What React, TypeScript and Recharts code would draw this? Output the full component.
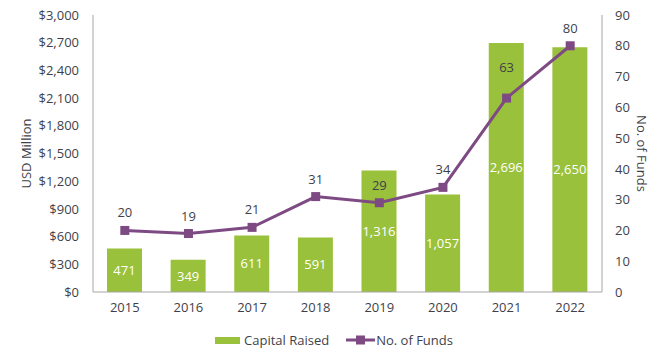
import React from "react";
import {
  ComposedChart,
  Bar,
  Line,
  XAxis,
  YAxis,
  Legend,
  LabelList,
} from "recharts";

const years = ["2015", "2016", "2017", "2018", "2019", "2020", "2021", "2022"];
const capitalRaised = [471, 349, 611, 591, 1316, 1057, 2696, 2650];
const fundCounts = [20, 19, 21, 31, 29, 34, 63, 80];
const usdTicks = [0, 300, 600, 900, 1200, 1500, 1800, 2100, 2400, 2700, 3000];
const fundTicks = [0, 10, 20, 30, 40, 50, 60, 70, 80, 90];

const GREEN = "#9AC13B";
const PURPLE = "#7E4A83";
const TEXT = "#3F3F4A";
const AXIS = "#A6A6A6";
const FONT = "'Open Sans', sans-serif";

const data = years.map((year, i) => ({
  year,
  capital: capitalRaised[i],
  funds: fundCounts[i],
}));

const SquareDot = (props: any) => {
  const { cx, cy } = props;
  if (cx == null || cy == null) return null;
  return <rect x={cx - 4.5} y={cy - 4.5} width={9} height={9} fill={PURPLE} />;
};

// line labels sit above the markers; the 2021 one was nudged higher in the original
const FundLabel = (props: any) => {
  const { x, y, value, index } = props;
  const lift = index === 6 ? 31 : 18;
  return (
    <text
      x={x}
      y={y - lift}
      textAnchor="middle"
      dominantBaseline="central"
      fill={TEXT}
      fontSize={13}
      fontFamily={FONT}
    >
      {value}
    </text>
  );
};

const LegendBox = () => (
  <div
    style={{
      height: 30,
      display: "flex",
      alignItems: "center",
      justifyContent: "center",
      fontFamily: FONT,
      fontSize: 13,
      color: TEXT,
    }}
  >
    <span style={{ display: "inline-block", width: 25, height: 7, background: GREEN, marginRight: 4 }} />
    <span style={{ marginRight: 17 }}>Capital Raised</span>
    <svg width={29} height={10} style={{ marginRight: 1 }}>
      <line x1={0} y1={5} x2={29} y2={5} stroke={PURPLE} strokeWidth={3} />
      <rect x={10} y={0.5} width={9} height={9} fill={PURPLE} />
    </svg>
    <span>No. of Funds</span>
  </div>
);

export default function App() {
  return (
    <div style={{ position: "absolute", left: 0, top: 0, background: "#fff" }}>
      <ComposedChart
        width={668}
        height={361}
        data={data}
        margin={{ top: 15, right: 0, bottom: 6, left: 0 }}
      >
        <XAxis
          dataKey="year"
          height={33}
          tickLine={false}
          tickSize={0}
          tickMargin={11}
          axisLine={{ stroke: AXIS }}
          tick={{ fill: TEXT, fontSize: 13, fontFamily: FONT }}
          interval={0}
        />
        <YAxis
          yAxisId="usd"
          width={93}
          domain={[0, 3000]}
          ticks={usdTicks}
          tickFormatter={(v: number) => `$${v.toLocaleString("en-US")}`}
          tickLine={false}
          tickSize={0}
          tickMargin={14}
          axisLine={{ stroke: AXIS }}
          tick={{ fill: TEXT, fontSize: 13, fontFamily: FONT }}
          label={{
            value: "USD Million",
            angle: -90,
            position: "center",
            dx: -20,
            fill: TEXT,
            fontSize: 13,
            fontFamily: FONT,
          }}
        />
        <YAxis
          yAxisId="funds"
          orientation="right"
          width={66}
          domain={[0, 90]}
          ticks={fundTicks}
          tickLine={false}
          tickSize={0}
          tickMargin={13}
          axisLine={{ stroke: AXIS }}
          tick={{ fill: TEXT, fontSize: 13, fontFamily: FONT }}
          label={{
            value: "No. of Funds",
            angle: 90,
            position: "center",
            dx: 7,
            fill: TEXT,
            fontSize: 13,
            fontFamily: FONT,
          }}
        />
        <Legend verticalAlign="bottom" height={30} content={<LegendBox />} />
        <Bar
          yAxisId="usd"
          dataKey="capital"
          name="Capital Raised"
          fill={GREEN}
          barSize={35}
          isAnimationActive={false}
        >
          <LabelList
            dataKey="capital"
            position="center"
            formatter={(v: any) => Number(v).toLocaleString("en-US")}
            fill="#FFFFFF"
            fontSize={13}
            fontFamily={FONT}
          />
        </Bar>
        <Line
          yAxisId="funds"
          dataKey="funds"
          name="No. of Funds"
          stroke={PURPLE}
          strokeWidth={3}
          dot={<SquareDot />}
          activeDot={false}
          isAnimationActive={false}
        >
          <LabelList dataKey="funds" content={<FundLabel />} />
        </Line>
      </ComposedChart>
    </div>
  );
}
